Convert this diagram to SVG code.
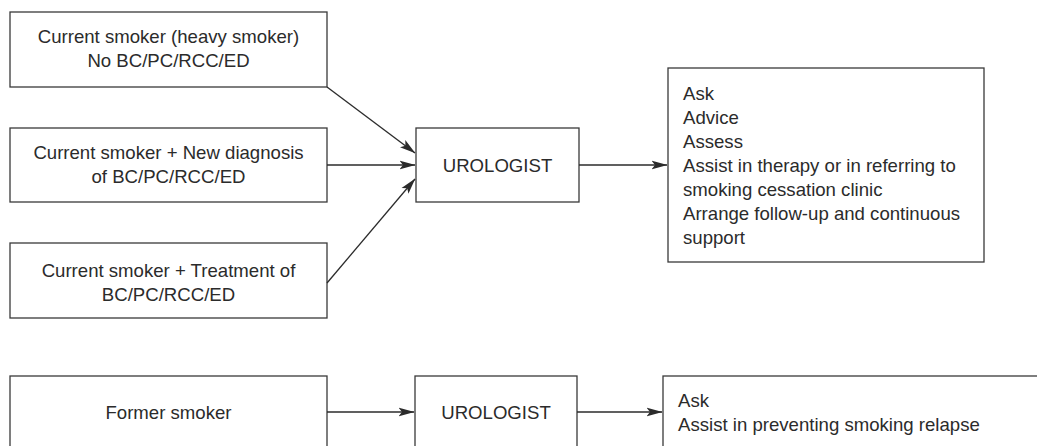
<svg xmlns="http://www.w3.org/2000/svg" width="1037" height="446" viewBox="0 0 1037 446">
<style>
.box{fill:#fff;stroke:#3a3a3a;stroke-width:1.3}
.t{font-family:"Liberation Sans",Arial,sans-serif;font-size:18.6px;fill:#2b2b2b}
.c{text-anchor:middle}
.ln{stroke:#2b2b2b;stroke-width:1.3;fill:none}
</style>
<defs>
<marker id="ah" markerUnits="userSpaceOnUse" markerWidth="16" markerHeight="11" viewBox="0 0 16 11" refX="15.5" refY="5.5" orient="auto">
<path d="M0,1 L16,5.5 L0,10 L3.5,5.5 z" fill="#2b2b2b"/>
</marker>
</defs>
<rect width="1037" height="446" fill="#fff"/>
<g id="n1"><rect class="box" x="10" y="12" width="317" height="75"/>
<text class="t c" x="168.5" y="43">Current smoker (heavy smoker)</text>
<text class="t c" x="168.5" y="67">No BC/PC/RCC/ED</text></g>
<g id="n2"><rect class="box" x="10" y="128" width="317" height="74"/>
<text class="t c" x="168.5" y="159">Current smoker + New diagnosis</text>
<text class="t c" x="168.5" y="183">of BC/PC/RCC/ED</text></g>
<g id="n3"><rect class="box" x="10" y="243" width="317" height="75"/>
<text class="t c" x="168.5" y="277">Current smoker + Treatment of</text>
<text class="t c" x="168.5" y="301">BC/PC/RCC/ED</text></g>
<g id="u1"><rect class="box" x="416" y="128" width="163" height="74"/>
<text class="t c" x="497.5" y="172">UROLOGIST</text></g>
<g id="r1"><rect class="box" x="668" y="68" width="316" height="194"/>
<text class="t" x="683" y="100">Ask</text>
<text class="t" x="683" y="124">Advice</text>
<text class="t" x="683" y="148">Assess</text>
<text class="t" x="683" y="172">Assist in therapy or in referring to</text>
<text class="t" x="683" y="196">smoking cessation clinic</text>
<text class="t" x="683" y="220">Arrange follow-up and continuous</text>
<text class="t" x="683" y="244">support</text></g>
<g id="n4"><rect class="box" x="10" y="376" width="317" height="90"/>
<text class="t c" x="168.5" y="419">Former smoker</text></g>
<g id="u2"><rect class="box" x="415" y="376" width="162" height="90"/>
<text class="t c" x="496" y="419">UROLOGIST</text></g>
<g id="r2"><rect class="box" x="663" y="376" width="400" height="90"/>
<text class="t" x="678" y="407">Ask</text>
<text class="t" x="678" y="431">Assist in preventing smoking relapse</text></g>
<g id="connectors">
<line class="ln" x1="327" y1="87" x2="415" y2="153" marker-end="url(#ah)"/>
<line class="ln" x1="327" y1="165" x2="415" y2="165" marker-end="url(#ah)"/>
<line class="ln" x1="327" y1="283" x2="415" y2="179" marker-end="url(#ah)"/>
<line class="ln" x1="579" y1="165" x2="667" y2="165" marker-end="url(#ah)"/>
<line class="ln" x1="327" y1="412" x2="414" y2="412" marker-end="url(#ah)"/>
<line class="ln" x1="577" y1="412" x2="662" y2="412" marker-end="url(#ah)"/>
</g>
</svg>
